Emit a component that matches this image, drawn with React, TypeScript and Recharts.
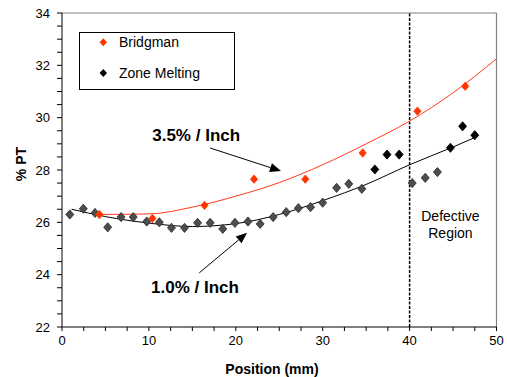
import { ComposedChart, Line, Scatter, XAxis, YAxis, ReferenceLine, ReferenceDot } from 'recharts';

// Bridgman samples
const bridgmanPos = [4.3, 10.4, 16.4, 22.1, 28.0, 34.6, 40.9, 46.4];
const bridgmanPT = [26.3, 26.15, 26.65, 27.65, 27.65, 28.65, 30.25, 31.2];

// Zone melting samples (grey)
const zonePos = [0.9, 2.45, 3.8, 5.26, 6.8, 8.2, 9.75, 11.2, 12.6, 14.1, 15.6, 17.05, 18.5, 19.9, 21.4, 22.8, 24.3, 25.8, 27.2, 28.6, 30.0, 31.6, 33.0, 34.5, 40.3, 41.8, 43.2];
const zonePT = [26.3, 26.52, 26.36, 25.81, 26.2, 26.2, 26.03, 26.0, 25.79, 25.79, 25.98, 25.98, 25.75, 25.98, 26.03, 25.94, 26.2, 26.39, 26.54, 26.58, 26.75, 27.32, 27.47, 27.28, 27.5, 27.7, 27.92];

// Zone melting samples (black)
const zoneBlackPos = [36.0, 37.4, 38.8, 44.7, 46.1, 47.5];
const zoneBlackPT = [28.02, 28.59, 28.59, 28.85, 29.67, 29.33];

// trend lines
const redTrendPos = [4, 10, 15, 20, 25, 30, 35, 40, 45, 50];
const redTrendPT = [26.3, 26.32, 26.58, 27.0, 27.52, 28.2, 29.0, 29.87, 30.95, 32.25];
const blackTrendPos = [1.1, 5, 10, 15, 20, 25, 30, 35, 40, 45, 47.5];
const blackTrendPT = [26.5, 26.22, 25.97, 25.84, 25.95, 26.3, 26.83, 27.45, 28.2, 28.88, 29.24];

const xTicks = [0, 2.5, 5, 7.5, 10, 12.5, 15, 17.5, 20, 22.5, 25, 27.5, 30, 32.5, 35, 37.5, 40, 42.5, 45, 47.5, 50];
const xLabels = [0, 10, 20, 30, 40, 50];
const yTicks = [22, 22.5, 23, 23.5, 24, 24.5, 25, 25.5, 26, 26.5, 27, 27.5, 28, 28.5, 29, 29.5, 30, 30.5, 31, 31.5, 32, 32.5, 33, 33.5, 34];
const yLabels = [22, 24, 26, 28, 30, 32, 34];

const toPts = (xs: number[], ys: number[]) => xs.map((x, i) => ({ x, y: ys[i] }));

const bridgman = toPts(bridgmanPos, bridgmanPT);
const zone = toPts(zonePos, zonePT);
const zoneBlack = toPts(zoneBlackPos, zoneBlackPT);
const redTrend = toPts(redTrendPos, redTrendPT);
const blackTrend = toPts(blackTrendPos, blackTrendPT);

const FONT = '"Liberation Sans", Arial, sans-serif';
const RED = '#ff3300';

const diamond = (fill: string, stroke: string, w: number, h: number) => (p: any) => (
  <polygon
    points={`${p.cx},${p.cy - h} ${p.cx + w},${p.cy} ${p.cx},${p.cy + h} ${p.cx - w},${p.cy}`}
    fill={fill}
    stroke={stroke}
    strokeWidth={0.8}
  />
);

const Arrow = (p: any) => {
  const { x1, y1, x2, y2 } = p;
  const a = Math.atan2(y2 - y1, x2 - x1);
  const len = 11;
  const half = 4.5;
  const bx = x2 - len * Math.cos(a);
  const by = y2 - len * Math.sin(a);
  const px = -Math.sin(a) * half;
  const py = Math.cos(a) * half;
  return (
    <g>
      <line x1={x1} y1={y1} x2={bx} y2={by} stroke="#000" strokeWidth={1} />
      <polygon points={`${x2},${y2} ${bx + px},${by + py} ${bx - px},${by - py}`} fill="#000" />
    </g>
  );
};

const note = (text: string, size: number, bold: boolean) => (p: any) => (
  <text
    x={p.cx}
    y={p.cy}
    textAnchor="middle"
    dominantBaseline="central"
    fontFamily={FONT}
    fontSize={size}
    fontWeight={bold ? 'bold' : 'normal'}
    fill="#000"
  >
    {text}
  </text>
);

export default function App() {
  return (
    <div style={{ position: 'absolute', left: 0, top: 0, width: 507, height: 377, background: '#fff' }}>
      <ComposedChart width={507} height={377} margin={{ top: 13, right: 10.5, bottom: 0, left: 0 }}>
        <XAxis
          type="number"
          dataKey="x"
          domain={[0, 50]}
          ticks={xTicks}
          interval={0}
          tickFormatter={(v: number) => (xLabels.includes(v) ? String(v) : '')}
          height={50}
          tickSize={4}
          tickMargin={5}
          stroke="#000"
          tick={{ fill: '#000', fontSize: 13, fontFamily: FONT }}
          allowDataOverflow
          label={{
            content: () => (
              <text x={272} y={374} textAnchor="middle" fontFamily={FONT} fontSize={14} fontWeight="bold" fill="#000">
                Position (mm)
              </text>
            ),
          }}
        />
        <YAxis
          type="number"
          dataKey="y"
          domain={[22, 34]}
          ticks={yTicks}
          interval={0}
          tickFormatter={(v: number) => (yLabels.includes(v) ? String(v) : '')}
          width={62}
          tickSize={5}
          tickMargin={7}
          stroke="#000"
          tick={{ fill: '#000', fontSize: 13, fontFamily: FONT }}
          allowDataOverflow
          label={{
            content: () => (
              <text
                x={26}
                y={164}
                textAnchor="middle"
                transform="rotate(-90 26 164)"
                fontFamily={FONT}
                fontSize={14}
                fontWeight="bold"
                fill="#000"
              >
                % PT
              </text>
            ),
          }}
        />
        <ReferenceLine y={34} stroke="#808080" strokeWidth={1.2} />
        <ReferenceLine x={50} stroke="#808080" strokeWidth={1.2} />
        <ReferenceLine x={40} stroke="#000" strokeWidth={1.5} strokeDasharray="3 1.5" />

        <Scatter name="Zone Melting" data={zone} shape={diamond('#4d4d4d', '#2a2a2a', 4, 4.6)} isAnimationActive={false} />
        <Scatter name="Zone Melting (black)" data={zoneBlack} shape={diamond('#000', '#000', 4, 4.6)} isAnimationActive={false} />
        <Scatter name="Bridgman" data={bridgman} shape={diamond(RED, RED, 3.6, 4.2)} isAnimationActive={false} />

        <Line data={blackTrend} dataKey="y" type="monotone" stroke="#000" strokeWidth={1} dot={false} activeDot={false} isAnimationActive={false} />
        <Line data={redTrend} dataKey="y" type="monotone" stroke="#ff3a1a" strokeWidth={1} dot={false} activeDot={false} isAnimationActive={false} />

        <ReferenceLine segment={[{ x: 17.05, y: 28.84 }, { x: 25.2, y: 27.96 }]} shape={Arrow} />
        <ReferenceLine segment={[{ x: 15.8, y: 24.07 }, { x: 21.3, y: 25.6 }]} shape={Arrow} />

        <ReferenceDot x={15.44} y={29.3} shape={note('3.5% / Inch', 17, true)} />
        <ReferenceDot x={15.3} y={23.51} shape={note('1.0% / Inch', 17, true)} />
        <ReferenceDot x={44.7} y={26.26} shape={note('Defective', 14, false)} />
        <ReferenceDot x={44.7} y={25.59} shape={note('Region', 14, false)} />
      </ComposedChart>

      <svg style={{ position: 'absolute', left: 79, top: 32 }} width={156} height={58}>
        <rect x={0.5} y={0.5} width={155} height={57} fill="#fff" stroke="#000" strokeWidth={1} />
        <polygon points="24.3,6.3 28,10.3 24.3,14.3 20.6,10.3" fill={RED} />
        <text x={40} y={15} fontFamily={FONT} fontSize={14} fill="#000">Bridgman</text>
        <polygon points="24.3,37 28,41 24.3,45 20.6,41" fill="#000" />
        <text x={40} y={45.5} fontFamily={FONT} fontSize={14} fill="#000">Zone Melting</text>
      </svg>
    </div>
  );
}
